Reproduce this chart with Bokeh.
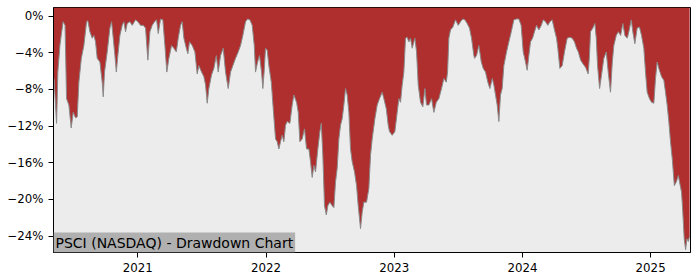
from bokeh.plotting import figure
from bokeh.models import Range1d, FixedTicker, Label, ColumnDataSource
from bokeh.embed import file_html
from bokeh.resources import INLINE

# Dates as decimal years, drawdown in percent
years = [
    2020.346, 2020.366, 2020.376, 2020.392, 2020.402, 2020.417, 2020.432, 2020.444, 2020.462, 2020.480,
    2020.496, 2020.514, 2020.527, 2020.540, 2020.559, 2020.579, 2020.600, 2020.610, 2020.626, 2020.644,
    2020.657, 2020.670, 2020.683, 2020.704, 2020.722, 2020.730, 2020.740, 2020.761, 2020.782, 2020.795,
    2020.808, 2020.821, 2020.832, 2020.844, 2020.860, 2020.878, 2020.891, 2020.904, 2020.917, 2020.938,
    2020.956, 2020.982, 2021.000, 2021.021, 2021.042, 2021.060, 2021.078, 2021.094, 2021.112, 2021.130,
    2021.146, 2021.159, 2021.177, 2021.195, 2021.211, 2021.226, 2021.242, 2021.263, 2021.281, 2021.300,
    2021.315, 2021.333, 2021.346, 2021.359, 2021.378, 2021.390, 2021.403, 2021.424, 2021.445, 2021.463,
    2021.476, 2021.497, 2021.515, 2021.528, 2021.541, 2021.554, 2021.575, 2021.593, 2021.612, 2021.627,
    2021.645, 2021.666, 2021.684, 2021.705, 2021.723, 2021.741, 2021.762, 2021.783, 2021.801, 2021.819,
    2021.840, 2021.856, 2021.874, 2021.892, 2021.908, 2021.918, 2021.934, 2021.949, 2021.965, 2021.975,
    2021.985, 2021.996, 2022.009, 2022.022, 2022.041, 2022.056, 2022.074, 2022.087, 2022.100, 2022.113,
    2022.126, 2022.139, 2022.152, 2022.165, 2022.186, 2022.204, 2022.217, 2022.238, 2022.251, 2022.264,
    2022.282, 2022.300, 2022.316, 2022.334, 2022.347, 2022.360, 2022.373, 2022.386, 2022.404, 2022.420,
    2022.431, 2022.443, 2022.456, 2022.470, 2022.482, 2022.498, 2022.516, 2022.529, 2022.542, 2022.555,
    2022.568, 2022.581, 2022.594, 2022.607, 2022.620, 2022.633, 2022.646, 2022.659, 2022.672, 2022.690,
    2022.706, 2022.719, 2022.737, 2022.750, 2022.763, 2022.784, 2022.802, 2022.815, 2022.828, 2022.849,
    2022.867, 2022.885, 2022.906, 2022.919, 2022.938, 2022.953, 2022.963, 2022.984, 2023.005, 2023.023,
    2023.036, 2023.049, 2023.062, 2023.075, 2023.088, 2023.101, 2023.114, 2023.127, 2023.140, 2023.161,
    2023.174, 2023.187, 2023.205, 2023.223, 2023.239, 2023.252, 2023.270, 2023.291, 2023.309, 2023.328,
    2023.348, 2023.369, 2023.387, 2023.406, 2023.416, 2023.426, 2023.439, 2023.457, 2023.478, 2023.499,
    2023.517, 2023.535, 2023.551, 2023.569, 2023.587, 2023.603, 2023.621, 2023.627, 2023.642, 2023.660,
    2023.679, 2023.694, 2023.712, 2023.730, 2023.746, 2023.765, 2023.777, 2023.790, 2023.803, 2023.816,
    2023.829, 2023.842, 2023.855, 2023.876, 2023.894, 2023.913, 2023.933, 2023.954, 2023.972, 2023.990,
    2024.006, 2024.024, 2024.037, 2024.050, 2024.063, 2024.079, 2024.094, 2024.110, 2024.128, 2024.147,
    2024.162, 2024.180, 2024.198, 2024.214, 2024.232, 2024.250, 2024.266, 2024.276, 2024.292, 2024.310,
    2024.328, 2024.349, 2024.370, 2024.388, 2024.406, 2024.422, 2024.436, 2024.454, 2024.472, 2024.493,
    2024.513, 2024.523, 2024.531, 2024.549, 2024.565, 2024.576, 2024.586, 2024.602, 2024.617, 2024.635,
    2024.654, 2024.669, 2024.687, 2024.701, 2024.713, 2024.732, 2024.748, 2024.766, 2024.783, 2024.799,
    2024.818, 2024.830, 2024.849, 2024.861, 2024.877, 2024.895, 2024.913, 2024.929, 2024.947, 2024.960,
    2024.973, 2024.991, 2025.007, 2025.025, 2025.038, 2025.051, 2025.064, 2025.085, 2025.103, 2025.116,
    2025.129, 2025.142, 2025.155, 2025.169, 2025.185, 2025.200, 2025.216, 2025.231, 2025.241, 2025.251,
    2025.262, 2025.273, 2025.283, 2025.294, 2025.304,
]

drawdown = [
    -6.8, -11.7, -6.1, -3.2, -2.1, -0.6, -1.0, -9.0, -9.7, -12.2,
    -10.5, -11.1, -11.0, -7.2, -4.6, -3.2, -0.6, -0.5, -1.7, -2.4,
    -2.1, -2.8, -4.6, -5.0, -7.2, -8.8, -6.1, -3.9, -1.3, -0.6,
    -2.4, -4.3, -6.1, -4.3, -2.1, -1.0, -0.6, -1.7, -0.8, -0.6,
    -1.0, -0.4, -0.6, -1.0, -1.0, -1.3, -4.8, -1.7, -1.0, -0.6,
    -0.4, -1.9, -0.3, -0.4, -3.2, -6.1, -4.6, -3.2, -3.5, -3.9,
    -2.4, -1.0, -0.6, -2.4, -3.5, -4.1, -2.8, -3.2, -3.9, -6.3,
    -5.4, -6.1, -6.6, -7.5, -9.5, -7.9, -6.4, -5.7, -4.3, -6.1,
    -4.3, -3.5, -6.1, -7.9, -6.1, -5.4, -4.6, -3.9, -3.2, -2.1,
    -0.6, -0.3, -0.4, -1.0, -3.2, -6.1, -5.0, -4.3, -6.1, -7.9,
    -6.1, -3.5, -3.7, -5.4, -7.2, -10.1, -13.4, -13.7, -14.5, -13.7,
    -13.0, -13.7, -11.9, -11.5, -11.7, -9.7, -8.6, -9.4, -10.5, -13.7,
    -13.4, -12.3, -14.5, -14.5, -15.9, -17.6, -16.3, -17.0, -14.5, -12.6,
    -11.7, -15.2, -20.7, -21.7, -20.7, -20.3, -20.7, -20.9, -18.1, -16.6,
    -13.4, -11.9, -11.2, -9.7, -7.9, -8.6, -10.5, -14.5, -15.9, -17.0,
    -18.5, -20.7, -23.2, -21.4, -20.3, -20.3, -18.8, -15.2, -13.4, -11.2,
    -9.7, -9.0, -8.3, -9.0, -10.1, -11.9, -12.6, -13.0, -12.6, -10.5,
    -9.0, -9.4, -7.5, -6.1, -2.4, -2.3, -2.8, -2.4, -3.5, -2.4,
    -3.9, -7.5, -9.4, -9.9, -7.9, -9.7, -9.7, -9.0, -10.5, -9.4,
    -9.0, -7.9, -6.8, -7.2, -6.1, -2.4, -1.5, -1.2, -0.4, -1.0,
    -0.6, -0.3, -0.4, -0.8, -1.3, -2.4, -4.3, -4.6, -4.3, -3.2,
    -5.0, -5.7, -6.1, -7.2, -7.9, -6.8, -7.5, -8.6, -9.7, -11.5,
    -8.6, -7.9, -5.4, -3.9, -2.8, -1.7, -0.4, -0.3, -0.3, -1.0,
    -3.9, -5.0, -5.9, -4.3, -2.8, -2.4, -1.7, -1.0, -1.5, -1.0,
    -0.4, -0.6, -1.0, -0.6, -0.4, -1.5, -2.4, -3.5, -5.7, -5.4,
    -3.9, -2.4, -2.3, -2.4, -2.8, -3.5, -3.9, -4.8, -5.2, -5.6,
    -6.3, -4.3, -1.7, -1.3, -0.8, -2.4, -5.4, -7.9, -6.4, -4.6,
    -3.9, -6.1, -8.3, -5.0, -3.2, -2.1, -1.7, -2.1, -0.8, -2.1,
    -2.4, -1.7, -0.4, -1.7, -3.0, -1.3, -1.2, -2.1, -3.5, -6.1,
    -8.3, -9.0, -9.4, -9.5, -6.8, -5.0, -5.7, -6.6, -7.0, -8.3,
    -9.7, -11.5, -13.7, -15.6, -18.5, -18.1, -17.4, -18.5, -19.2, -21.4,
    -24.3, -25.5, -24.3, -24.6, -24.0,
]

year_ticks = [2021, 2022, 2023, 2024, 2025]
pct_ticks = [0, -4, -8, -12, -16, -20, -24]
pct_labels = ["0%", "\u22124%", "\u22128%", "\u221212%", "\u221216%", "\u221220%", "\u221224%"]
title_text = "PSCI (NASDAQ) - Drawdown Chart"

X_START, X_END = 2020.342, 2025.311
Y_BOTTOM, Y_TOP = -25.8, 0.95

p = figure(
    frame_width=637, frame_height=245,
    min_border_left=53, min_border_right=10, min_border_top=7, min_border_bottom=28,
    x_range=Range1d(X_START, X_END), y_range=Range1d(Y_BOTTOM, Y_TOP),
    output_backend="svg", toolbar_location=None,
    background_fill_color="#ececec", border_fill_color="white",
)
p.outline_line_color = "black"
p.outline_line_width = 1
p.xgrid.visible = False
p.ygrid.visible = False

src = ColumnDataSource(dict(x=years, dd=drawdown, top=[Y_TOP] * len(years)))
p.varea(x="x", y1="dd", y2="top", source=src, fill_color="#af2e2e")
p.line(x="x", y="dd", source=src, line_color="#8a8a8a", line_width=1)

p.xaxis.ticker = FixedTicker(ticks=year_ticks)
p.yaxis.ticker = FixedTicker(ticks=pct_ticks)
p.yaxis.major_label_overrides = {float(t): lab for t, lab in zip(pct_ticks, pct_labels)}
for ax in (p.xaxis[0], p.yaxis[0]):
    ax.minor_tick_line_color = None
    ax.major_tick_in = 0
    ax.major_tick_out = 5
    ax.axis_line_color = "black"
    ax.major_tick_line_color = "black"
    ax.major_label_text_font = "DejaVu Sans"
    ax.major_label_text_font_size = "11.8px"
    ax.major_label_text_color = "black"
    ax.major_label_standoff = 5

lab = Label(
    x=X_START, y=Y_BOTTOM, text=title_text,
    text_font="DejaVu Sans", text_font_size="14px", text_color="black",
    text_align="left", text_baseline="bottom",
    background_fill_color="#b0b0b0", padding=2,
)
p.add_layout(lab)

open("out.html", "w").write(file_html(p, INLINE))
